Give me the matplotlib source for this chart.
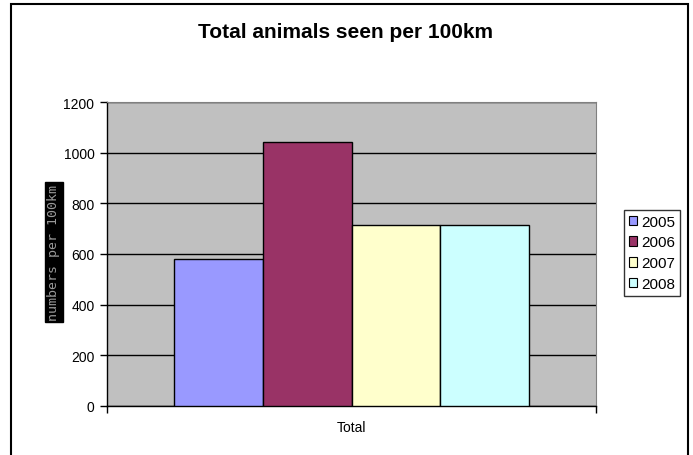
import numpy as np
import matplotlib.pyplot as plt
from matplotlib.patches import Rectangle, Patch

# data
years = ['2005', '2006', '2007', '2008']
totals = [580, 1041, 716, 716]
colors = ['#9999FF', '#993366', '#FFFFCC', '#CCFFFF']
category = 'Total'

plt.rcParams['font.family'] = ['Liberation Sans', 'DejaVu Sans']

fig = plt.figure(figsize=(6.93, 4.56), dpi=100)
W, H = 693, 456

# outer chart border
fig.patches.append(Rectangle((11 / W, -0.05), (688 - 11) / W, 1.05 - 5 / H,
                             transform=fig.transFigure, fill=False,
                             edgecolor='black', linewidth=1.5))

ax = fig.add_axes([107 / W, 1 - 407 / H, (596 - 107) / W, (407 - 103) / H])
ax.set_facecolor('#C0C0C0')

# clustered bars, gap width 150%
n = len(years)
bw = 1 / (n + 1.5)
start = 0.5 - n * bw / 2
for i, (yr, v, c) in enumerate(zip(years, totals, colors)):
    ax.bar(start + (i + 0.5) * bw, v, width=bw, color=c, edgecolor='black',
           linewidth=1, zorder=3, label=yr)

ax.set_xlim(0, 1)
ax.set_ylim(0, 1200)
ax.set_yticks(np.arange(0, 1201, 200))
ax.yaxis.grid(True, color='black', linewidth=1, zorder=1)
ax.set_axisbelow(True)
ax.tick_params(axis='y', direction='out', length=5, width=1, labelsize=10, pad=4)
ax.set_xticks([0, 1])
ax.set_xticklabels(['', ''])
ax.tick_params(axis='x', direction='out', length=5, width=1)
ax.text(0.5, -82, category, ha='center', va='center', fontsize=10)
for s in ['top', 'right']:
    ax.spines[s].set_color('#808080')
for s in ['left', 'bottom']:
    ax.spines[s].set_color('black')
    ax.spines[s].set_linewidth(1)

fig.text(346 / W, 1 - 33 / H, 'Total animals seen per 100km', ha='center',
         va='center', fontsize=15, fontweight='bold')

# y axis label (rendered as a dark box in the reference)
fig.text(54 / W, 1 - 253 / H, 'numbers per 100km', rotation=90, ha='center',
         va='center', fontsize=9.5, color='#9a9a9a', family='DejaVu Sans Mono',
         bbox=dict(facecolor='black', edgecolor='black', pad=1.5))

handles = [Patch(facecolor=c, edgecolor='black', linewidth=0.8) for c in colors]
leg = fig.legend(handles, years, loc='upper left',
                 bbox_to_anchor=(624 / W, 1 - 211 / H), fontsize=11,
                 handlelength=0.55, handleheight=0.55, handletextpad=0.3,
                 borderpad=0.3, labelspacing=0.45, borderaxespad=0,
                 fancybox=False, frameon=True)
leg.get_frame().set_edgecolor('black')
leg.get_frame().set_linewidth(1)

fig.savefig('out.png', dpi=100)
